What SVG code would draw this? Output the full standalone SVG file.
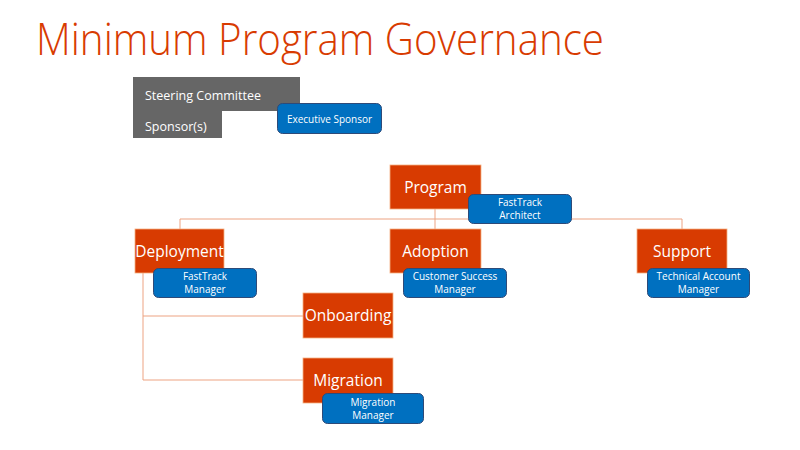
<svg xmlns="http://www.w3.org/2000/svg" width="800" height="450" viewBox="0 0 800 450">
<style>
.title{font-family:"Open Sans","Noto Sans",sans-serif;font-weight:300;font-size:44px;fill:#D83B01}
.org{fill:#D83B01;stroke:#F4B183;stroke-width:0.8}
.org-t{font-family:"Open Sans","Noto Sans",sans-serif;font-size:15.5px;fill:#fff;text-anchor:middle}
.role{fill:#0070C0;stroke:#2E4A78;stroke-width:1}
.role-t{font-family:"Open Sans","Noto Sans",sans-serif;font-size:10px;fill:#fff;text-anchor:middle}
.grey-t{font-family:"Open Sans","Noto Sans",sans-serif;font-size:12.5px;fill:#fff}
.conn{fill:none;stroke:#EDA382;stroke-width:1}
</style>
<rect width="800" height="450" fill="#fff"/>
<text class="title" x="36" y="55" textLength="568" lengthAdjust="spacingAndGlyphs">Minimum Program Governance</text>

<g id="connectors">
<path class="conn" d="M435,209 V229 M180,219 H682 M180,219 V229 M682,219 V229"/>
<path class="conn" d="M143,273 V380 H303 M143,316 H303"/>
</g>

<g id="steering">
<path d="M133,77 H300 V111 H222 V138 H133 Z" fill="#666666"/>
<text class="grey-t" x="145" y="100">Steering Committee</text>
<text class="grey-t" x="145" y="131">Sponsor(s)</text>
</g>
<g id="executive-sponsor">
<rect class="role" x="277.5" y="103.5" width="104" height="30" rx="5"/>
<text class="role-t" x="329.5" y="122.5">Executive Sponsor</text>
</g>

<g id="program">
<rect class="org" x="390" y="165" width="91" height="44"/>
<text class="org-t" x="435.5" y="193">Program</text>
</g>
<g id="fasttrack-architect">
<rect class="role" x="468.5" y="194.5" width="103" height="29" rx="5"/>
<text class="role-t" x="520" y="206">FastTrack</text>
<text class="role-t" x="520" y="219">Architect</text>
</g>

<g id="deployment">
<rect class="org" x="135" y="229" width="89" height="44"/>
<text class="org-t" x="179.5" y="257">Deployment</text>
</g>
<g id="fasttrack-manager">
<rect class="role" x="153.5" y="268.5" width="103" height="29" rx="5"/>
<text class="role-t" x="205" y="280">FastTrack</text>
<text class="role-t" x="205" y="293">Manager</text>
</g>

<g id="adoption">
<rect class="org" x="390" y="229" width="91" height="44"/>
<text class="org-t" x="435.5" y="257">Adoption</text>
</g>
<g id="customer-success-manager">
<rect class="role" x="403.5" y="268.5" width="103" height="29" rx="5"/>
<text class="role-t" x="455" y="280">Customer Success</text>
<text class="role-t" x="455" y="293">Manager</text>
</g>

<g id="support">
<rect class="org" x="637" y="229" width="90" height="44"/>
<text class="org-t" x="682" y="257">Support</text>
</g>
<g id="technical-account-manager">
<rect class="role" x="647.5" y="268.5" width="102" height="29" rx="5"/>
<text class="role-t" x="698.5" y="280">Technical Account</text>
<text class="role-t" x="698.5" y="293">Manager</text>
</g>

<g id="onboarding">
<rect class="org" x="303" y="293" width="90" height="45"/>
<text class="org-t" x="348" y="321">Onboarding</text>
</g>

<g id="migration">
<rect class="org" x="303" y="358" width="90" height="45"/>
<text class="org-t" x="348" y="386">Migration</text>
</g>
<g id="migration-manager">
<rect class="role" x="322.5" y="393.5" width="101" height="30" rx="5"/>
<text class="role-t" x="373" y="406">Migration</text>
<text class="role-t" x="373" y="419">Manager</text>
</g>
</svg>
